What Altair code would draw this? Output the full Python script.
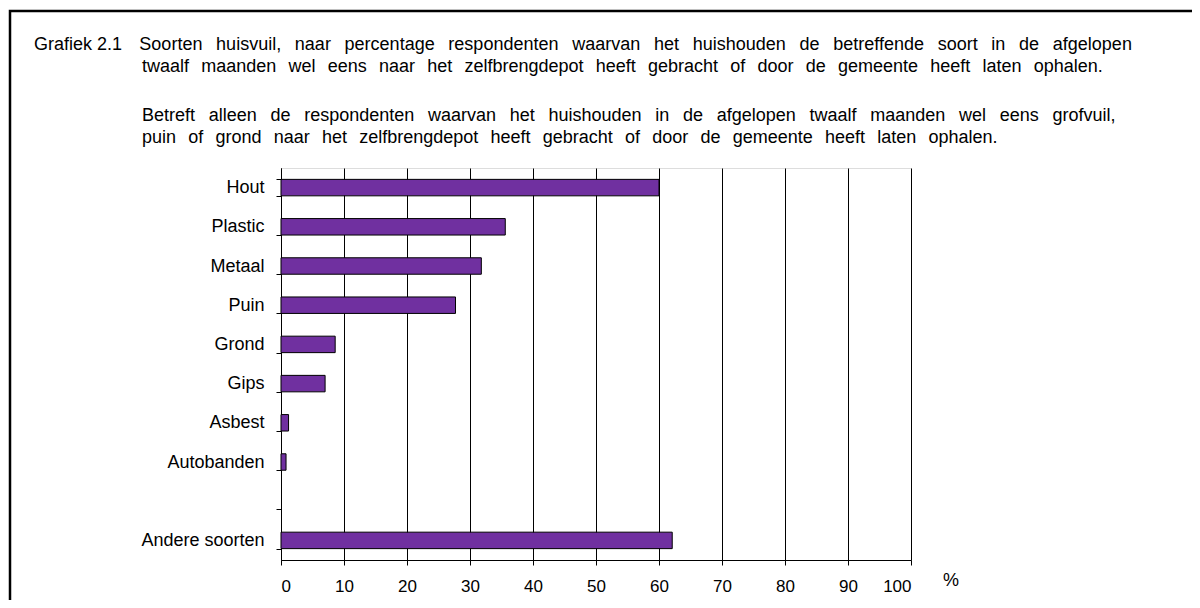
import altair as alt
import pandas as pd

categories = ["Hout", "Plastic", "Metaal", "Puin", "Grond", "Gips", "Asbest",
              "Autobanden", "", "Andere soorten"]
values = [60.0, 35.6, 31.8, 27.7, 8.6, 7.0, 1.2, 0.8, None, 62.1]
x_ticks = [0, 10, 20, 30, 40, 50, 60, 70, 80, 90, 100]
caption_label = "Grafiek 2.1"
title_lines = [
    "Soorten huisvuil, naar percentage respondenten waarvan het huishouden de betreffende soort in de afgelopen",
    "twaalf maanden wel eens naar het zelfbrengdepot heeft gebracht of door de gemeente heeft laten ophalen.",
    "Betreft alleen de respondenten waarvan het huishouden in de afgelopen twaalf maanden wel eens grofvuil,",
    "puin of grond naar het zelfbrengdepot heeft gebracht of door de gemeente heeft laten ophalen.",
]
unit_label = "%"

FONT = "Liberation Sans"
FS = 18
# the source caption is set with wide word spacing
GAP_A = " \u2009\u2009\u200a"
GAP_B = " \u2009\u2009"
GAP_CAPTION = " \u2009\u2009\u2009\u200a"

df = pd.DataFrame({"soort": categories, "pct": values}).dropna()

bars = alt.Chart(df).mark_bar(
    color="#7030A0", stroke="black", strokeWidth=1
).encode(
    y=alt.Y("soort:N", sort=categories,
            scale=alt.Scale(domain=categories, paddingInner=0.58, paddingOuter=0.29),
            axis=alt.Axis(title=None, tickBand="extent", tickSize=5, tickColor="black",
                          domainColor="black", labelColor="black", labelFont=FONT,
                          labelFontSize=FS, labelPadding=12, grid=False)),
    x=alt.X("pct:Q", scale=alt.Scale(domain=[0, 100], nice=False),
            axis=alt.Axis(title=None, values=x_ticks, grid=True, gridColor="black",
                          gridOpacity=1, gridWidth=1, tickSize=5, tickColor="black",
                          domainColor="black", labelColor="black", labelFont=FONT,
                          labelFontSize=17, labelPadding=13)),
)

def text_layer(txt, x, y, size=FS):
    return alt.Chart(pd.DataFrame({"t": [txt]})).mark_text(
        align="left", baseline="middle", font=FONT, fontSize=size, color="black"
    ).encode(text="t:N", x=alt.value(x), y=alt.value(y))

def spaced(line, gap):
    return gap.join(line.split(" "))

t1 = text_layer(caption_label + GAP_CAPTION + spaced(title_lines[0], GAP_A), -247, -123)
t2 = text_layer(spaced(title_lines[1], GAP_B), -139, -101)
t3 = text_layer(spaced(title_lines[2], GAP_A), -139, -52)
t4 = text_layer(spaced(title_lines[3], GAP_B), -139, -30)
pct = text_layer(unit_label, 662, 413)

frame = alt.Chart(pd.DataFrame({"t": [0]})).mark_rect(
    fill=None, stroke="black", strokeWidth=2.5
).encode(x=alt.value(-271), x2=alt.value(960), y=alt.value(-157), y2=alt.value(480))

chart = alt.layer(frame, bars, t1, t2, t3, t4, pct).properties(
    width=630, height=392,
    autosize=alt.AutoSizeParams(type="none"),
    padding={"left": 273, "top": 160, "right": 281, "bottom": 40},
).configure_view(stroke="black", strokeWidth=1).configure(background="white")

chart.save("out.html", embed_options={"renderer": "svg", "actions": False})
